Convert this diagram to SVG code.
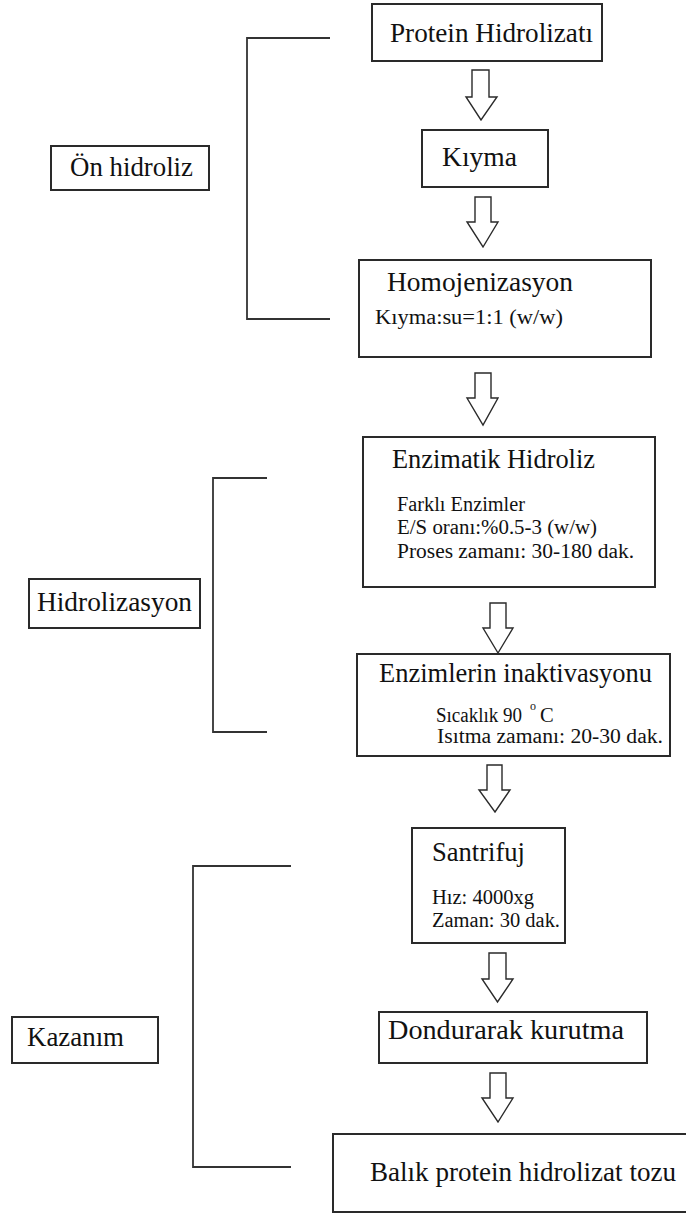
<svg xmlns="http://www.w3.org/2000/svg" width="686" height="1214" viewBox="0 0 686 1214">
<style>
.box{fill:#fff;stroke:#2a2a2a;stroke-width:2}
.arr{fill:#fff;stroke:#2a2a2a;stroke-width:1.4;stroke-linejoin:miter}
.br{fill:none;stroke:#333;stroke-width:1.8}
.t{font-family:"Liberation Serif","Times New Roman",serif;font-size:27px;fill:#111}
.s{font-family:"Liberation Serif","Times New Roman",serif;font-size:20.5px;fill:#111}
</style>
<rect width="686" height="1214" fill="#fff"/>
<g id="connectors">
<polyline class="br" points="330,38 247,38 247,319 330,319"/>
<polyline class="br" points="267,478 213,478 213,732 267,732"/>
<polyline class="br" points="291,866 193,866 193,1167 291,1167"/>
<path class="arr" d="M472,70 L489,70 L489,97 L497,97 L481,120 L466,97 L472,97 Z"/>
<path class="arr" d="M475,197 L491,197 L491,222 L498,222 L483,247 L467,222 L475,222 Z"/>
<path class="arr" d="M475,373 L491,373 L491,398 L498,398 L483,425 L467,398 L475,398 Z"/>
<path class="arr" d="M490,603 L506,603 L506,628 L513,628 L498,653 L483,628 L490,628 Z"/>
<path class="arr" d="M487,765 L502,765 L502,790 L510,790 L495,812 L479,790 L487,790 Z"/>
<path class="arr" d="M489,953 L506,953 L506,979 L513,979 L497.5,1002 L482,979 L489,979 Z"/>
<path class="arr" d="M490,1073 L506,1073 L506,1098 L513,1098 L498,1122 L482,1098 L490,1098 Z"/>
</g>
<g id="protein">
<rect class="box" x="372" y="4" width="230" height="57"/>
<text class="t" x="390" y="42" textLength="203" lengthAdjust="spacingAndGlyphs">Protein Hidrolizatı</text>
</g>
<g id="kiyma">
<rect class="box" x="422" y="130" width="126" height="57"/>
<text class="t" x="442" y="166" textLength="75" lengthAdjust="spacingAndGlyphs">Kıyma</text>
</g>
<g id="homojenizasyon">
<rect class="box" x="359" y="260" width="292" height="97"/>
<text class="t" x="387" y="291" textLength="186" lengthAdjust="spacingAndGlyphs">Homojenizasyon</text>
<text class="s" x="375" y="324" textLength="188" lengthAdjust="spacingAndGlyphs">Kıyma:su=1:1 (w/w)</text>
</g>
<g id="enzimatik">
<rect class="box" x="363" y="437" width="292" height="150"/>
<text class="t" x="392" y="468" textLength="203" lengthAdjust="spacingAndGlyphs">Enzimatik Hidroliz</text>
<text class="s" x="397" y="511" textLength="128" lengthAdjust="spacingAndGlyphs">Farklı Enzimler</text>
<text class="s" x="397" y="534" textLength="200" lengthAdjust="spacingAndGlyphs">E/S oranı:%0.5-3 (w/w)</text>
<text class="s" x="397" y="558" textLength="237" lengthAdjust="spacingAndGlyphs">Proses zamanı: 30-180 dak.</text>
</g>
<g id="inaktivasyon">
<rect class="box" x="357" y="654" width="313" height="102"/>
<text class="t" x="379" y="682" textLength="273" lengthAdjust="spacingAndGlyphs">Enzimlerin inaktivasyonu</text>
<text class="s" x="436" y="722"><tspan textLength="86" lengthAdjust="spacingAndGlyphs">Sıcaklık 90</tspan><tspan x="530" y="710" font-size="12">o</tspan><tspan x="540" y="722">C</tspan></text>
<text class="s" x="437" y="743" textLength="226" lengthAdjust="spacingAndGlyphs">Isıtma zamanı:  20-30 dak.</text>
</g>
<g id="santrifuj">
<rect class="box" x="412" y="828" width="153" height="115"/>
<text class="t" x="432" y="861" textLength="93" lengthAdjust="spacingAndGlyphs">Santrifuj</text>
<text class="s" x="432" y="904" textLength="102" lengthAdjust="spacingAndGlyphs">Hız: 4000xg</text>
<text class="s" x="432" y="927" textLength="128" lengthAdjust="spacingAndGlyphs">Zaman: 30 dak.</text>
</g>
<g id="kurutma">
<rect class="box" x="379" y="1012" width="268" height="51"/>
<text class="t" x="388" y="1039" textLength="236" lengthAdjust="spacingAndGlyphs">Dondurarak kurutma</text>
</g>
<g id="toz">
<rect class="box" x="333" y="1134" width="370" height="78"/>
<text class="t" x="370" y="1181" textLength="306" lengthAdjust="spacingAndGlyphs">Balık protein hidrolizat tozu</text>
</g>
<g id="on-hidroliz">
<rect class="box" x="51" y="146" width="158" height="44"/>
<text class="t" x="70" y="176" textLength="123" lengthAdjust="spacingAndGlyphs">Ön hidroliz</text>
</g>
<g id="hidrolizasyon">
<rect class="box" x="29" y="579" width="171" height="49"/>
<text class="t" x="37" y="611" textLength="155" lengthAdjust="spacingAndGlyphs">Hidrolizasyon</text>
</g>
<g id="kazanim">
<rect class="box" x="12" y="1017" width="146" height="46"/>
<text class="t" x="27" y="1046" textLength="97" lengthAdjust="spacingAndGlyphs">Kazanım</text>
</g>
</svg>
